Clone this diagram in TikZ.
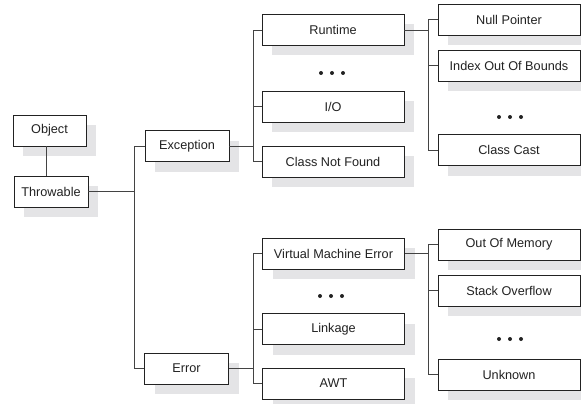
\documentclass[tikz,border=0pt]{standalone}
\usepackage{fontspec}
\setmainfont{Liberation Sans}
\usetikzlibrary{shadows}
\definecolor{shade}{HTML}{E4E4E6}
\definecolor{ink}{HTML}{222222}
\begin{document}
\begin{tikzpicture}[x=1pt,y=-1pt,
  box/.style={draw=ink,line width=0.9pt,fill=white,inner sep=0pt,minimum height=31pt,
    font=\fontsize{12.7}{14}\selectfont,text=ink,
    general shadow={fill=shade,shadow xshift=10pt,shadow yshift=-10pt}},
  wide/.style={box,minimum width=142pt},
  narrow/.style={box,minimum width=84pt},
  conn/.style={draw=ink!85,line width=0.9pt},
  dot/.style={fill=ink}]
\useasboundingbox (0,0) rectangle (581,404);
% left column
\node[box,minimum width=73pt] (obj) at (49.5,130.5) {Object};
\node[box,minimum width=74pt] (thr) at (51,191.5) {Throwable};
% second column
\node[narrow] (exc) at (187,146) {Exception};
\node[narrow] (err) at (186.5,368.5) {Error};
% third column
\node[wide] (rt) at (333,30) {Runtime};
\node[wide] (io) at (333,106.5) {I/O};
\node[wide] (cnf) at (333,161.5) {Class Not Found};
\node[wide] (vme) at (333.5,253.5) {Virtual Machine Error};
\node[wide] (lnk) at (333.5,329) {Linkage};
\node[wide] (awt) at (333.5,383.5) {AWT};
% fourth column
\node[wide] (np) at (509,19.5) {Null Pointer};
\node[wide] (ioob) at (509,65.5) {Index Out Of Bounds};
\node[wide] (cc) at (509,150) {Class Cast};
\node[wide] (oom) at (509,244.5) {Out Of Memory};
\node[wide] (so) at (509,290.5) {Stack Overflow};
\node[wide] (unk) at (509,374.5) {Unknown};
% branch coordinates
\coordinate (t) at (134,0);
\coordinate (b) at (253,0);
\coordinate (c) at (428.5,0);
% connectors
\draw[conn] ([xshift=-3pt]obj.south) -- ([xshift=-3pt]obj.south |- thr.north);
\draw[conn] (thr.east) -- (thr.east -| t);
\draw[conn] (exc.west) -- (exc.west -| t) -- (err.west -| t) -- (err.west);
\draw[conn] (exc.east) -- (exc.east -| b);
\draw[conn] (rt.west) -- (rt.west -| b) -- (cnf.west -| b) -- (cnf.west);
\draw[conn] (io.west) -- (io.west -| b);
\draw[conn] (err.east) -- (err.east -| b);
\draw[conn] (vme.west) -- (vme.west -| b) -- (awt.west -| b) -- (awt.west);
\draw[conn] (lnk.west) -- (lnk.west -| b);
\draw[conn] (rt.east) -- (rt.east -| c);
\draw[conn] (np.west) -- (np.west -| c) -- (cc.west -| c) -- (cc.west);
\draw[conn] (ioob.west) -- (ioob.west -| c);
\draw[conn] (vme.east) -- (vme.east -| c);
\draw[conn] (oom.west) -- (oom.west -| c) -- (unk.west -| c) -- (unk.west);
\draw[conn] (so.west) -- (so.west -| c);
% ellipsis dots
\foreach \cx/\cy in {332/73, 331/296, 510/117, 510/339}{
  \foreach \dx in {-11,0,11}{
    \fill[dot] (\cx+\dx,\cy) circle (2pt);
  }
}
\end{tikzpicture}
\end{document}
